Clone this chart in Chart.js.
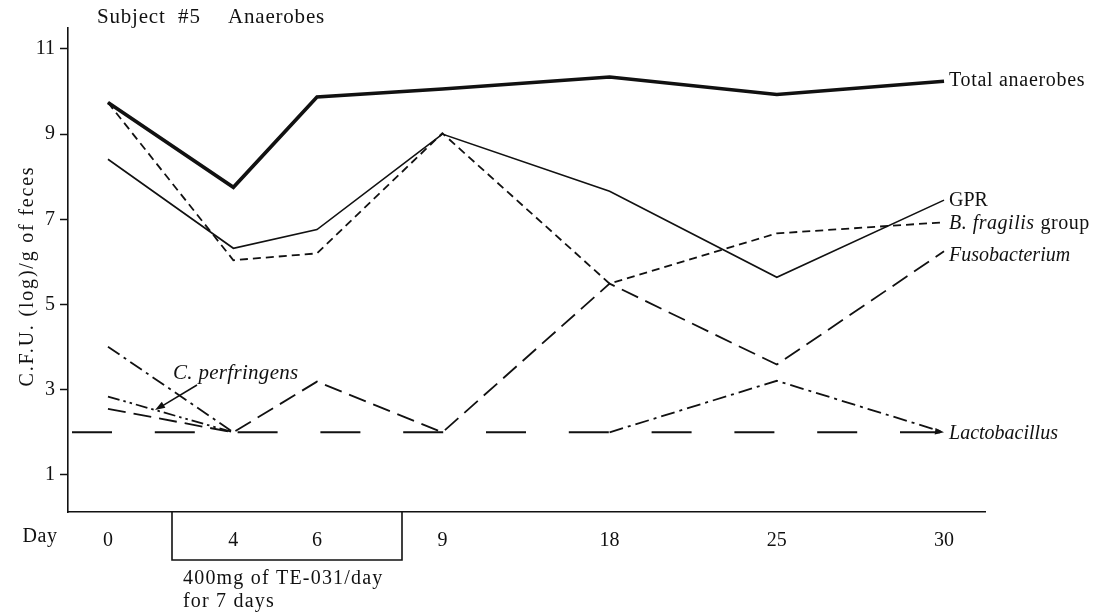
<!DOCTYPE html>
<html>
<head>
<meta charset="utf-8">
<script src="https://cdn.jsdelivr.net/npm/chart.js@4.4.1/dist/chart.umd.min.js"></script>
<style>
  html, body { margin: 0; padding: 0; background: #fff; }
  #wrap { width: 1106px; height: 615px; }
</style>
</head>
<body>
<div id="wrap"><canvas id="c" width="1106" height="615"></canvas></div>
<script>
// Sampling days and where each day sits along the (unevenly spaced) time axis
const days = ['0', '4', '6', '9', '18', '25', '30'];
const dayAxisPos = [0, 1.5, 2.5, 4, 6, 8, 10];

// log10 CFU per gram of feces
const totalAnaerobes = [9.74, 7.75, 9.87, 10.06, 10.34, 9.93, 10.24];
const gpr            = [8.41, 6.32, 6.76, 9.00, 7.66, 5.64, 7.45];
const bFragilis      = [9.74, 6.04, 6.20, 9.02, 5.49, 6.67, 6.93];
const fusobacterium  = [2.55, 2.00, 3.19, 2.00, 5.49, 3.59, 6.25];
const cPerfringens   = [2.84, 2.00, null, null, null, null, null];
const lactobacillus  = [4.01, 2.00, null, null, 2.00, 3.21, 2.00];
const detectionLimit = 2.0;

const yTicks = [1, 3, 5, 7, 9, 11];

const SERIF = '"Liberation Serif", "Times New Roman", serif';

function pts(values) {
  return values.map((v, i) => ({ x: dayAxisPos[i], y: v }));
}

const X_MIN = -0.478, X_MAX = 10.49;

function lineSet(label, values, width, dash) {
  return {
    label,
    data: pts(values),
    borderColor: '#111',
    borderWidth: width,
    borderDash: dash || [],
    pointRadius: 0,
    tension: 0,
    fill: false,
    spanGaps: false,
    borderJoinStyle: 'miter',
    borderCapStyle: 'butt'
  };
}

const datasets = [
  Object.assign(lineSet('limit', [], 2, [40, 42.8]), {
    data: [{ x: X_MIN, y: detectionLimit }, { x: dayAxisPos[dayAxisPos.length - 1], y: detectionLimit }],
    borderDashOffset: 78.8
  }),
  lineSet('Lactobacillus', lactobacillus, 1.8, [14, 5, 3, 5]),
  lineSet('C. perfringens', cPerfringens, 1.8, [12, 4, 2.5, 4, 2.5, 4]),
  lineSet('Fusobacterium', fusobacterium, 1.8, [18, 8]),
  lineSet('B. fragilis group', bFragilis, 1.8, [8, 5]),
  lineSet('GPR', gpr, 1.6),
  lineSet('Total anaerobes', totalAnaerobes, 3.6)
];

function drawText(ctx, text, x, y, opts) {
  ctx.save();
  ctx.font = (opts.style || '') + ' ' + (opts.size || 20) + 'px ' + SERIF;
  ctx.fillStyle = '#111';
  ctx.textAlign = opts.align || 'left';
  ctx.textBaseline = 'middle';
  if ('letterSpacing' in ctx) ctx.letterSpacing = (opts.spacing || 0) + 'px';
  ctx.fillText(text, x, y);
  ctx.restore();
}

function arrowHead(ctx, x, y, angle, len) {
  ctx.save();
  ctx.translate(x, y);
  ctx.rotate(angle);
  ctx.beginPath();
  ctx.moveTo(0, 0);
  ctx.lineTo(-len, -len * 0.35);
  ctx.lineTo(-len, len * 0.35);
  ctx.closePath();
  ctx.fillStyle = '#111';
  ctx.fill();
  ctx.restore();
}

const annotations = {
  id: 'annotations',
  afterDraw(chart) {
    const ctx = chart.ctx;
    const xs = chart.scales.x, ys = chart.scales.y;
    const area = chart.chartArea;
    const last = dayAxisPos.length - 1;
    const xEnd = xs.getPixelForValue(dayAxisPos[last]);

    // heading
    drawText(ctx, 'Subject', 97, 17, { size: 21, spacing: 0.8 });
    drawText(ctx, '#5', 178, 17, { size: 21, spacing: 1 });
    drawText(ctx, 'Anaerobes', 228, 17, { size: 21, spacing: 0.8 });

    // vertical axis title
    ctx.save();
    ctx.translate(28, (area.top + area.bottom) / 2 + 6);
    ctx.rotate(-Math.PI / 2);
    drawText(ctx, 'C.F.U. (log)/g of feces', 0, 0, { size: 20, align: 'center', spacing: 1.8 });
    ctx.restore();

    // "Day" caption in the tick label row
    drawText(ctx, 'Day', 40, 537, { size: 20, align: 'center', spacing: 0.5 });

    // end-of-line series labels
    const lx = xEnd + 5;
    drawText(ctx, 'Total anaerobes', lx, ys.getPixelForValue(totalAnaerobes[last]) - 1, { size: 20, spacing: 0.7 });
    drawText(ctx, 'GPR', lx, ys.getPixelForValue(gpr[last]) + 1, { size: 20 });
    ctx.save();
    ctx.font = 'italic 20px ' + SERIF;
    if ('letterSpacing' in ctx) ctx.letterSpacing = '0.5px';
    const bw = ctx.measureText('B. fragilis').width;
    ctx.restore();
    const by = ys.getPixelForValue(bFragilis[last]) + 1;
    drawText(ctx, 'B. fragilis', lx, by, { size: 20, style: 'italic', spacing: 0.5 });
    drawText(ctx, 'group', lx + bw + 6, by, { size: 20, spacing: 0.5 });
    drawText(ctx, 'Fusobacterium', lx, ys.getPixelForValue(fusobacterium[last]) + 4, { size: 20, style: 'italic' });
    drawText(ctx, 'Lactobacillus', lx, ys.getPixelForValue(lactobacillus[last]) + 1, { size: 20, style: 'italic' });

    // arrow tip where Lactobacillus meets its label
    arrowHead(ctx, xEnd, ys.getPixelForValue(lactobacillus[last]), 0.12, 9);

    // C. perfringens label with a pointer to its line
    drawText(ctx, 'C. perfringens', 173, 373, { size: 21, style: 'italic', spacing: 0.3 });
    const tx = 155;
    const t = (tx - xs.getPixelForValue(dayAxisPos[0])) /
              (xs.getPixelForValue(dayAxisPos[1]) - xs.getPixelForValue(dayAxisPos[0]));
    const p0 = ys.getPixelForValue(cPerfringens[0]), p1 = ys.getPixelForValue(cPerfringens[1]);
    const ty = p0 + (p1 - p0) * t;
    ctx.save();
    ctx.strokeStyle = '#111';
    ctx.lineWidth = 1.5;
    ctx.beginPath();
    ctx.moveTo(197, 385);
    ctx.lineTo(tx + 4, ty - 2);
    ctx.stroke();
    ctx.restore();
    arrowHead(ctx, tx, ty, Math.atan2(ty - 385, tx - 197), 10);

    // dosing period bracket under the axis
    const bottom = area.bottom;
    ctx.save();
    ctx.strokeStyle = '#111';
    ctx.lineWidth = 1.6;
    ctx.beginPath();
    ctx.moveTo(172, bottom);
    ctx.lineTo(172, 560);
    ctx.lineTo(402, 560);
    ctx.lineTo(402, bottom);
    ctx.stroke();
    ctx.restore();
    drawText(ctx, '400mg of TE-031/day', 183, 579, { size: 20, spacing: 1.2 });
    drawText(ctx, 'for 7 days', 183, 602, { size: 20, spacing: 1.2 });
  }
};

new Chart(document.getElementById('c'), {
  type: 'line',
  data: { datasets },
  options: {
    responsive: false,
    animation: false,
    events: [],
    layout: { padding: { top: 28, right: 121, left: 0, bottom: 0 } },
    plugins: { legend: { display: false }, tooltip: { enabled: false } },
    scales: {
      x: {
        type: 'linear',
        min: X_MIN,
        max: X_MAX,
        afterBuildTicks(scale) { scale.ticks = dayAxisPos.map(v => ({ value: v })); },
        afterFit(scale) { scale.height = 103; },
        grid: { display: true, drawOnChartArea: false, drawTicks: false },
        border: { color: '#111', width: 1.6 },
        ticks: {
          autoSkip: false,
          maxRotation: 0,
          padding: 17,
          color: '#111',
          font: { family: SERIF, size: 20 },
          callback(v) {
            const i = dayAxisPos.indexOf(v);
            return i >= 0 ? days[i] : '';
          }
        }
      },
      y: {
        type: 'linear',
        min: 0.13,
        max: 11.49,
        afterBuildTicks(scale) { scale.ticks = yTicks.map(v => ({ value: v })); },
        afterFit(scale) { scale.width = 68; },
        grid: { display: true, drawOnChartArea: false, drawTicks: true, tickLength: 8, tickColor: '#111', tickWidth: 1.5 },
        border: { color: '#111', width: 1.6 },
        ticks: {
          padding: 5,
          color: '#111',
          font: { family: SERIF, size: 20 },
          callback(v) { return String(v); }
        }
      }
    }
  },
  plugins: [annotations]
});
</script>
</body>
</html>
